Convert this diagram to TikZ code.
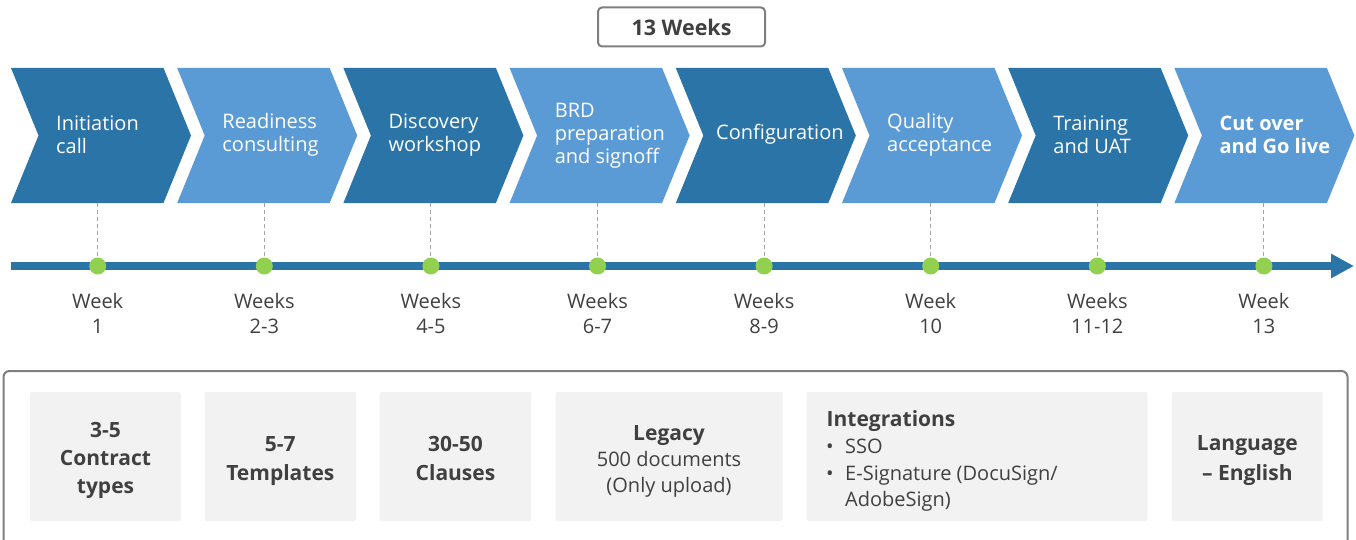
\documentclass[tikz,border=0pt]{standalone}
\usepackage{fontspec}
\setmainfont{Open Sans}
\usetikzlibrary{arrows.meta}
\definecolor{dkblue}{HTML}{2B74A7}
\definecolor{ltblue}{HTML}{5B9BD5}
\definecolor{dotgreen}{HTML}{92D050}
\definecolor{txtgray}{HTML}{404040}
\definecolor{boxgray}{HTML}{F2F2F2}
\definecolor{framegray}{HTML}{7F7F7F}
\definecolor{dashgray}{HTML}{A6A6A6}
\tikzset{
  chevtext/.style={anchor=west, align=left, text=white, inner sep=0pt, font=\fontsize{20}{23}\selectfont},
  weektext/.style={align=center, text=txtgray, inner sep=0pt, font=\fontsize{20}{25}\selectfont},
  dot/.style={circle, fill=dotgreen, minimum size=17pt, inner sep=0pt},
  dashline/.style={dashgray, line width=1pt, dash pattern=on 4pt off 3pt},
  infobox/.style={fill=boxgray, rounded corners=2pt, inner sep=0pt, minimum height=129pt},
  boldtext/.style={anchor=base, text=txtgray, inner sep=0pt, font=\bfseries\fontsize{21}{29}\selectfont},
  regtext/.style={anchor=base, text=txtgray, inner sep=0pt, font=\fontsize{20}{27}\selectfont},
}
\begin{document}
\begin{tikzpicture}[x=1pt,y=-1pt]
\useasboundingbox (0,0) rectangle (1356,540);
\clip (0,0) rectangle (1356,540);
% duration box
\node[draw=framegray, line width=2pt, rounded corners=4pt, minimum width=167pt, minimum height=39pt, text=txtgray, font=\bfseries\fontsize{21.5}{24}\selectfont] (dur) at (681.5,27) {13 Weeks};
% chevrons
\foreach \i/\col in {0/dkblue,1/ltblue,2/dkblue,3/ltblue,4/dkblue,5/ltblue,6/dkblue,7/ltblue}{
  \pgfmathsetmacro\xa{11+166.2*\i}
  \fill[\col] (\xa,68) -- ++(152.5,0) -- ++(27.5,67.5) -- ++(-27.5,67.5) -- ++(-152.5,0) -- ++(27.5,-67.5) -- cycle;
  \coordinate (cb\i) at ({97.7+166.6*\i},203);
}
\node[chevtext] (t0) at (56,135) {Initiation\\call};
\node[chevtext] (t1) at (222.2,135) {Readiness\\consulting};
\node[chevtext] (t2) at (388.4,135) {Discovery\\workshop};
\node[chevtext] (t3) at (554.6,136) {BRD\\preparation\\and signoff};
\node[chevtext] (t4) at (716,134) {Configuration};
\node[chevtext] (t5) at (887,135) {Quality\\acceptance};
\node[chevtext] (t6) at (1053.2,135) {Training\\and UAT};
\node[chevtext, font=\bfseries\fontsize{20}{23}\selectfont] (t7) at (1219.4,135) {Cut over\\and Go live};
% timeline
\coordinate (tlstart) at (11,266);
\coordinate (tlend) at (1354,266);
\draw[dkblue, line width=8.3pt, -{Triangle[width=23pt,length=23pt]}] (tlstart) -- (tlend);
\foreach \i in {0,...,7}{
  \node[dot] (d\i) at ({97.7+166.6*\i},266) {};
  \draw[dashline] (cb\i) -- (d\i.north);
}
% week labels
\node[weektext] (w0) at ({97.7+166.6*0},313.5) {Week\\1};
\node[weektext] (w1) at ({97.7+166.6*1},313.5) {Weeks\\2-3};
\node[weektext] (w2) at ({97.7+166.6*2},313.5) {Weeks\\4-5};
\node[weektext] (w3) at ({97.7+166.6*3},313.5) {Weeks\\6-7};
\node[weektext] (w4) at ({97.7+166.6*4},313.5) {Weeks\\8-9};
\node[weektext] (w5) at ({97.7+166.6*5},313.5) {Week\\10};
\node[weektext] (w6) at ({97.7+166.6*6},313.5) {Weeks\\11-12};
\node[weektext] (w7) at ({97.7+166.6*7},313.5) {Week\\13};
% bottom frame
\draw[framegray, line width=2pt, rounded corners=6pt] (3.5,560) -- (3.5,371) -- (1347.5,371) -- (1347.5,560);
% info boxes
\node[infobox, minimum width=151pt] (b1) at (105.5,456.5) {};
\node[infobox, minimum width=151.4pt] (b2) at (280.3,456.5) {};
\node[infobox, minimum width=151.8pt] (b3) at (455.5,456.5) {};
\node[infobox, minimum width=227pt] (b4) at (669,456.5) {};
\node[infobox, minimum width=341pt] (b5) at (977,456.5) {};
\node[infobox, minimum width=151pt] (b6) at (1247.4,456.5) {};
\node[boldtext] (l1a) at (105.5,437) {3-5};
\node[boldtext] (l1b) at (105.5,465.5) {Contract};
\node[boldtext] (l1c) at (105.5,493) {types};
\node[boldtext] (l2a) at (280.3,451) {5-7};
\node[boldtext] (l2b) at (280.3,480) {Templates};
\node[boldtext] (l3a) at (455.5,451) {30-50};
\node[boldtext] (l3b) at (455.5,480) {Clauses};
\node[boldtext] (l4a) at (669,440) {Legacy};
\node[regtext] (l4b) at (669,466.5) {500 documents};
\node[regtext] (l4c) at (669,492) {(Only upload)};
\node[boldtext, anchor=base west] (l5a) at (826.5,426.7) {Integrations};
\node[regtext, anchor=base west] (l5b) at (826,453.3) {\textbullet};
\node[regtext, anchor=base west] (l5c) at (845,453.3) {SSO};
\node[regtext, anchor=base west] (l5d) at (826,480) {\textbullet};
\node[regtext, anchor=base west] (l5e) at (845,480) {E-Signature (DocuSign/};
\node[regtext, anchor=base west] (l5f) at (845,506) {AdobeSign)};
\node[boldtext] (l6a) at (1247.4,450.7) {Language};
\node[boldtext] (l6b) at (1247.4,480) {– English};
\end{tikzpicture}
\end{document}
